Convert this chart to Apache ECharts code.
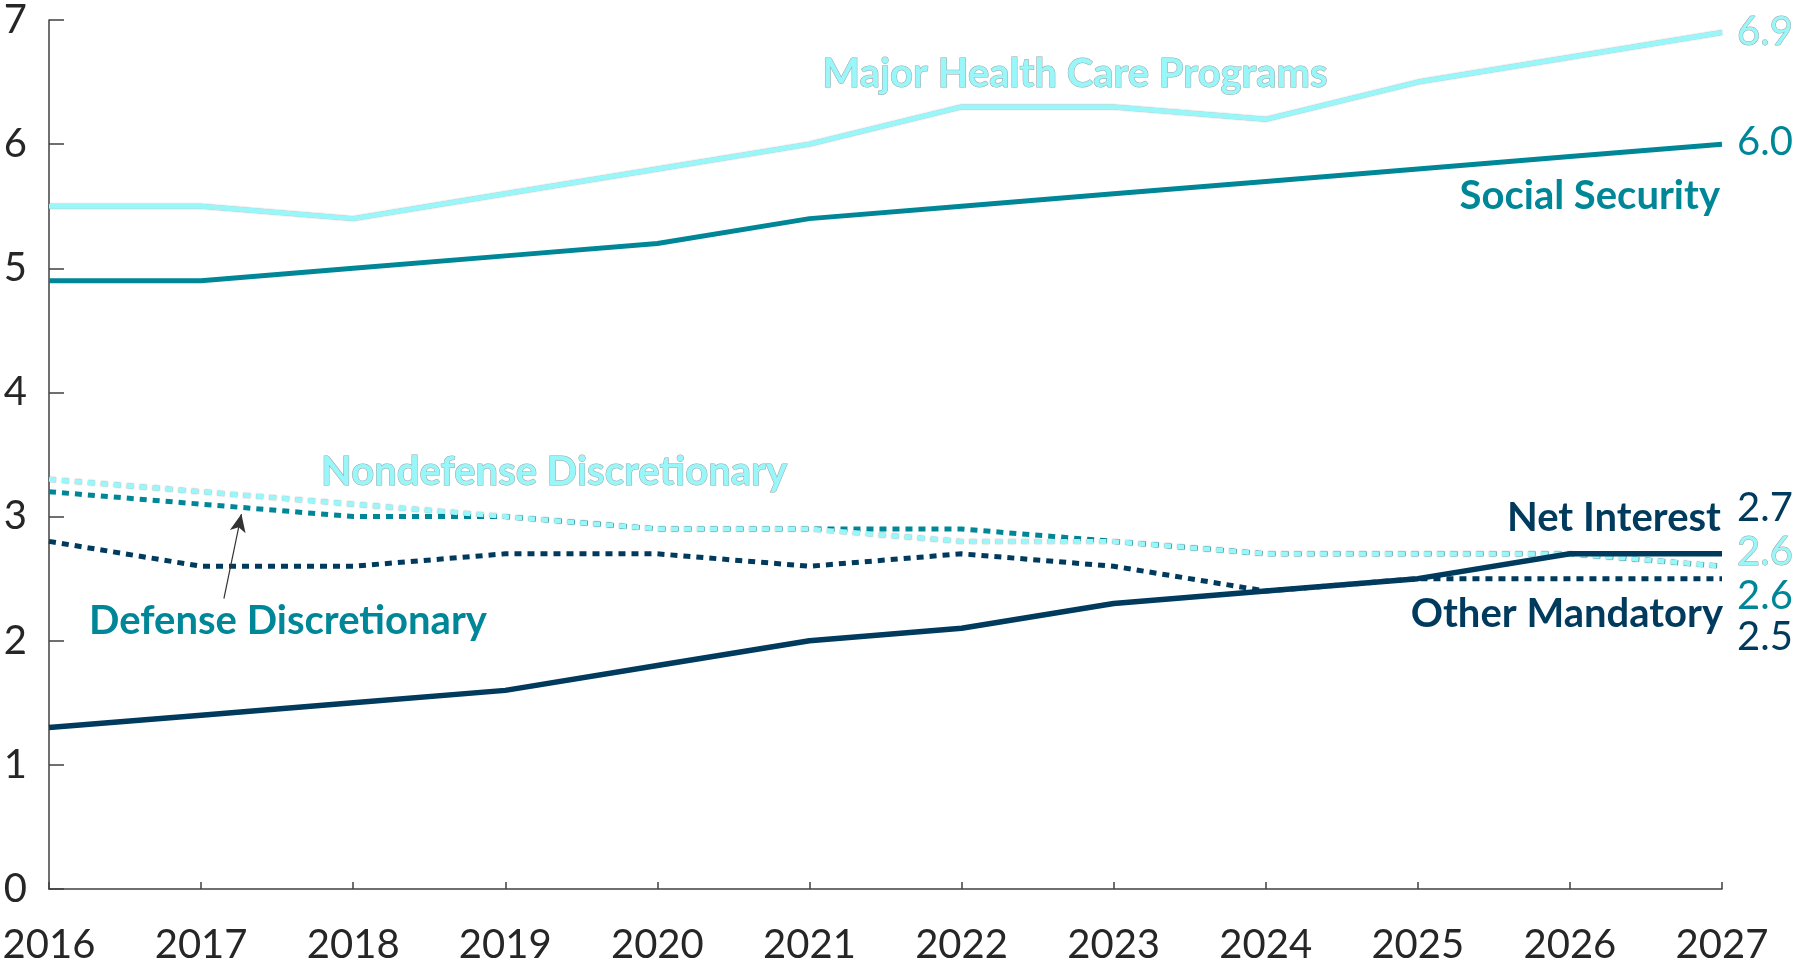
<!DOCTYPE html>
<html>
<head>
<meta charset="utf-8">
<script src="https://cdn.jsdelivr.net/npm/echarts@6/dist/echarts.min.js"></script>
<style>
  html, body { margin: 0; padding: 0; background: #fff; }
  #chart { width: 1806px; height: 958px; }
</style>
</head>
<body>
<div id="chart"></div>
<script>
// years on the x axis
const years = [2016, 2017, 2018, 2019, 2020, 2021, 2022, 2023, 2024, 2025, 2026, 2027]

// outlays as a share of GDP
const healthCare = [5.5, 5.5, 5.4, 5.6, 5.8, 6.0, 6.3, 6.3, 6.2, 6.5, 6.7, 6.9]
const socialSecurity = [4.9, 4.9, 5.0, 5.1, 5.2, 5.4, 5.5, 5.6, 5.7, 5.8, 5.9, 6.0]
const netInterest = [1.3, 1.4, 1.5, 1.6, 1.8, 2.0, 2.1, 2.3, 2.4, 2.5, 2.7, 2.7]
const nondefense = [3.3, 3.2, 3.1, 3.0, 2.9, 2.9, 2.8, 2.8, 2.7, 2.7, 2.7, 2.6]
const defense = [3.2, 3.1, 3.0, 3.0, 2.9, 2.9, 2.9, 2.8, 2.7, 2.7, 2.7, 2.6]
const otherMandatory = [2.8, 2.6, 2.6, 2.7, 2.7, 2.6, 2.7, 2.6, 2.4, 2.5, 2.5, 2.5]

const yTicks = [0, 1, 2, 3, 4, 5, 6, 7]

const LIGHT = '#99f6f9'
const TEAL = '#008797'
const NAVY = '#003a5d'
const FONT = 'Lato, Roboto, sans-serif'

const chart = echarts.init(document.getElementById('chart'))

const pairs = (vals) => vals.map((v, i) => [years[i], v])

// end-of-line value label
const endLabel = (color, dy, outline) => ({
  show: true,
  formatter: (p) => p.value[1].toFixed(1),
  color: color,
  fontFamily: FONT,
  fontSize: 40,
  distance: 15,
  offset: [0, dy],
  textBorderColor: outline ? '#a0a0a0' : 'transparent',
  textBorderWidth: outline ? 1 : 0,
})

const solid = (name, vals, color, width, dy, outline) => ({
  name: name,
  type: 'line',
  data: pairs(vals),
  symbol: 'none',
  silent: true,
  lineStyle: {
    color: color,
    width: width,
    shadowColor: outline ? 'rgba(0,0,0,0.35)' : 'transparent',
    shadowBlur: outline ? 1.5 : 0,
  },
  endLabel: endLabel(color, dy, outline),
})

const dotted = (name, vals, color, dy, outline) => ({
  name: name,
  type: 'line',
  data: pairs(vals),
  symbol: 'none',
  silent: true,
  lineStyle: {
    color: color,
    width: 5,
    type: [7, 6],
    cap: 'butt',
    shadowColor: outline ? 'rgba(0,0,0,0.4)' : 'transparent',
    shadowBlur: outline ? 1.5 : 0,
  },
  endLabel: endLabel(color, dy, outline),
})

const defenseSeries = dotted('Defense Discretionary', defense, TEAL, 30, false)
defenseSeries.markLine = {
  silent: true,
  symbol: ['none', 'arrow'],
  symbolSize: [12, 18],
  label: {show: false},
  lineStyle: {color: '#333', width: 1.2, type: 'solid'},
  data: [[{coord: [2017.15, 2.34]}, {coord: [2017.265, 3.02]}]],
}

const textStyle = (text, x, y, color, align, outline) => ({
  type: 'text',
  x: x,
  y: y,
  silent: true,
  style: {
    text: text,
    fill: color,
    font: 'bold 40px ' + FONT,
    textAlign: align,
    textVerticalAlign: 'middle',
    stroke: outline ? '#a0a0a0' : null,
    lineWidth: outline ? 1 : 0,
  },
})

const option = {
  animation: false,
  grid: {
    left: 49,
    right: 84,
    top: 20,
    bottom: 69,
    containLabel: false,
    outerBoundsMode: 'none',
  },
  xAxis: {
    type: 'value',
    min: 2016,
    max: 2027,
    interval: 1,
    splitLine: {show: false},
    axisLine: {lineStyle: {color: '#404040', width: 1.5}},
    axisTick: {inside: true, length: 7, lineStyle: {color: '#404040', width: 1.5}},
    axisLabel: {
      color: '#262626',
      fontFamily: FONT,
      fontSize: 40,
      margin: 36,
      formatter: (v) => String(v),
    },
  },
  yAxis: {
    type: 'value',
    min: yTicks[0],
    max: yTicks[yTicks.length - 1],
    interval: 1,
    splitLine: {show: false},
    axisLine: {show: true, lineStyle: {color: '#404040', width: 1.5}},
    axisTick: {show: true, inside: true, length: 15, lineStyle: {color: '#404040', width: 1.5}},
    axisLabel: {
      color: '#262626',
      fontFamily: FONT,
      fontSize: 40,
      margin: 22,
    },
  },
  series: [
    defenseSeries,
    dotted('Nondefense Discretionary', nondefense, LIGHT, -14, true),
    dotted('Other Mandatory', otherMandatory, NAVY, 58, false),
    solid('Major Health Care Programs', healthCare, LIGHT, 5, 0, true),
    solid('Social Security', socialSecurity, TEAL, 5, -2, false),
    solid('Net Interest', netInterest, NAVY, 5.5, -46, false),
  ],
  graphic: [
    textStyle('Major Health Care Programs', 1075, 74, LIGHT, 'center', true),
    textStyle('Social Security', 1720, 196, TEAL, 'right', false),
    textStyle('Nondefense Discretionary', 554, 472, LIGHT, 'center', true),
    textStyle('Defense Discretionary', 288, 621, TEAL, 'center', false),
    textStyle('Net Interest', 1721, 518, NAVY, 'right', false),
    textStyle('Other Mandatory', 1723, 614, NAVY, 'right', false),
  ],
}

chart.setOption(option)
</script>
</body>
</html>
